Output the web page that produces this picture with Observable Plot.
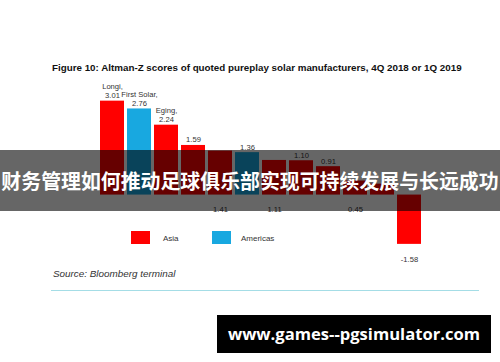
<!DOCTYPE html>
<html><head><meta charset="utf-8">
<script src="https://cdn.jsdelivr.net/npm/d3@7"></script>
<script src="https://cdn.jsdelivr.net/npm/@observablehq/plot@0.6"></script>
<style>
html,body{margin:0;padding:0;background:#fff;width:500px;height:362px;overflow:hidden;}
#wrap{position:relative;width:500px;height:362px;font-family:"Liberation Sans",Arial,sans-serif;color:#222;}
#title{position:absolute;left:52px;top:63px;font-size:9.8px;line-height:10px;font-weight:bold;color:#111;white-space:nowrap;}
#chart{position:absolute;left:0;top:80px;}
#chart svg{overflow:visible;}
.sw{position:absolute;width:19px;height:13px;top:231px;}
.lt{position:absolute;top:234px;font-size:8px;line-height:10px;color:#333;white-space:nowrap;}
#source{position:absolute;left:53px;top:269px;font-size:9.9px;line-height:10px;font-style:italic;color:#333;white-space:nowrap;}
#rule{position:absolute;left:51px;top:290px;width:428px;height:1px;background:#a4dde6;}
#overlay{position:absolute;left:0;top:150px;width:500px;height:61px;background:rgba(0,0,0,0.6);color:#fff;font-family:"Noto Sans CJK SC",sans-serif;font-weight:bold;font-size:19.9px;line-height:62px;text-align:center;white-space:nowrap;overflow:hidden;}
#wm{position:absolute;left:217px;top:315px;width:274px;height:38px;background:#000;color:#fff;font-family:"Open Sans",sans-serif;font-weight:bold;font-size:16.6px;line-height:38px;text-align:center;white-space:nowrap;}
</style>
</head><body>
<div id="wrap">
  <div id="title"></div>
  <div id="chart"></div>
  <div id="legend"></div>
  <div id="source"></div>
  <div id="rule"></div>
  <div id="overlay"></div>
  <div id="wm"></div>
</div>
<script>
const titleText = "Figure 10: Altman-Z scores of quoted pureplay solar manufacturers, 4Q 2018 or 1Q 2019";
const sourceText = "Source: Bloomberg terminal";
const overlayText = "财务管理如何推动足球俱乐部实现可持续发展与长远成功";
const watermarkText = "www.games--pgsimulator.com";

const companies = ["Longi", "First Solar", "Eging", "", "", "", "", "", "", "", "", ""];
const scores = [3.01, 2.76, 2.24, 1.59, 1.41, 1.36, 1.11, 1.10, 0.91, 0.45, 0.35, -1.58];
const regions = ["Asia", "Americas", "Asia", "Asia", "Asia", "Americas", "Asia", "Asia", "Asia", "Asia", "Asia", "Asia"];
const valueLabels = ["3.01", "2.76", "2.24", "1.59", "1.41", "1.36", "1.11", "1.10", "0.91", "0.45", "", "-1.58"];
const regionNames = ["Asia", "Americas"];
const regionColors = ["#ff0000", "#18a8e0"];

document.getElementById("title").textContent = titleText;
document.getElementById("source").textContent = sourceText;
document.getElementById("overlay").textContent = overlayText;
document.getElementById("wm").textContent = watermarkText;

const data = scores.map((v, i) => ({
  i, v, region: regions[i],
  label: companies[i] ? companies[i] + ",\n" + valueLabels[i] : valueLabels[i]
}));
const underAxis = new Set([4, 6, 9]);
const textStyle = {fontSize: 7.6, fill: "#333", lineHeight: 1.2};

const chart = Plot.plot({
  width: 500, height: 185,
  marginLeft: 95, marginRight: 73.6, marginTop: 11.6, marginBottom: 4.9,
  x: {type: "band", domain: d3.range(scores.length), paddingInner: 0.125, paddingOuter: 0, axis: null},
  y: {domain: [-2.1, 3.3], axis: null},
  color: {domain: regionNames, range: regionColors},
  style: {fontFamily: "Liberation Sans, Arial, sans-serif", background: "transparent"},
  marks: [
    Plot.barY(data, {x: "i", y: "v", fill: "region"}),
    Plot.text(data.filter(d => d.v >= 0 && !underAxis.has(d.i)), {x: "i", y: "v", text: "label", lineAnchor: "bottom", dy: -3, ...textStyle}),
    Plot.text(data.filter(d => underAxis.has(d.i)), {x: "i", y: 0, text: "label", dy: 14.5, ...textStyle}),
    Plot.text(data.filter(d => d.v < 0), {x: "i", y: "v", text: "label", dy: 15, ...textStyle})
  ]
});
document.getElementById("chart").appendChild(chart);

// legend
const legend = document.getElementById("legend");
const legendPos = [{sw: 131, tx: 163}, {sw: 212, tx: 241}];
regionNames.forEach((name, k) => {
  const s = document.createElement("div");
  s.className = "sw"; s.style.left = legendPos[k].sw + "px"; s.style.background = chart.scale("color").apply(name);
  legend.appendChild(s);
  const t = document.createElement("div");
  t.className = "lt"; t.style.left = legendPos[k].tx + "px"; t.textContent = name;
  legend.appendChild(t);
});
</script>
</body></html>
